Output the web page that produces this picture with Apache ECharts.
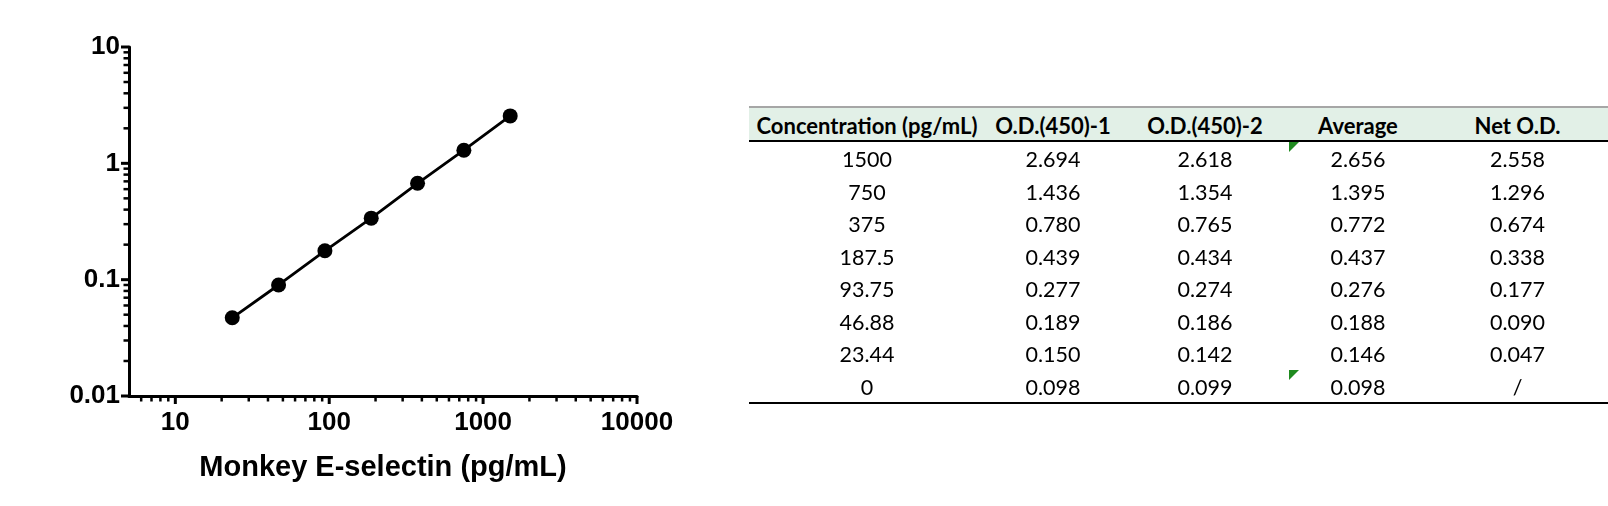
<!DOCTYPE html>
<html>
<head>
<meta charset="utf-8">
<script src="https://cdn.jsdelivr.net/npm/echarts@6/dist/echarts.min.js"></script>
<style>
html,body{margin:0;padding:0;background:#fff;}
#chart{position:absolute;left:0;top:0;width:1608px;height:506px;}
#tbl{position:absolute;left:749px;top:106px;width:859px;border-top:2px solid #a6a6a6;border-bottom:2px solid #000;font-family:Lato,"Noto Sans",sans-serif;color:#000;}
.hdr{display:flex;height:32px;background:#e2f0e7;border-bottom:2px solid #000;font-weight:bold;font-size:22px;align-items:center;}
.row{display:flex;height:32.5px;align-items:center;font-size:21.5px;}
.c{text-align:center;position:relative;box-sizing:border-box;height:100%;display:flex;align-items:center;justify-content:center;}
.hdr .c{padding-top:2px;}
.row .c{padding-top:2px;}
.flag{position:absolute;left:0;top:0;width:0;height:0;border-top:10px solid #1f8a1f;border-right:10px solid transparent;}
</style>
</head>
<body>
<div id="chart"></div>
<div id="tbl"></div>
<script>
// ---- data ----
const concentrations = [1500, 750, 375, 187.5, 93.75, 46.88, 23.44, 0];
const od1 = [2.694, 1.436, 0.780, 0.439, 0.277, 0.189, 0.150, 0.098];
const od2 = [2.618, 1.354, 0.765, 0.434, 0.274, 0.186, 0.142, 0.099];
const average = [2.656, 1.395, 0.772, 0.437, 0.276, 0.188, 0.146, 0.098];
const netOD = [2.558, 1.296, 0.674, 0.338, 0.177, 0.090, 0.047, null];
const headers = ['Concentration (pg/mL)', 'O.D.(450)-1', 'O.D.(450)-2', 'Average', 'Net O.D.'];
const flaggedAverageRows = [0, 7];

const xMajorTicks = [10, 100, 1000, 10000];
const xMinorTicks = [6, 7, 8, 9, 20, 30, 40, 50, 60, 70, 80, 90, 200, 300, 400, 500, 600, 700, 800, 900, 2000, 3000, 4000, 5000, 6000, 7000, 8000, 9000];
const yMajorTicks = [0.01, 0.1, 1, 10];
const yMinorTicks = [0.02, 0.03, 0.04, 0.05, 0.06, 0.07, 0.08, 0.09, 0.2, 0.3, 0.4, 0.5, 0.6, 0.7, 0.8, 0.9, 2, 3, 4, 5, 6, 7, 8, 9];

const xMin = 5, xMax = 10000, yMin = 0.01, yMax = 10;

// ---- chart ----
const curve = [];
concentrations.forEach((c, i) => { if (c > 0 && netOD[i] != null) curve.push([c, netOD[i]]); });

function tickSeries(values, axis, len, width) {
  return {
    type: 'custom',
    clip: false,
    silent: true,
    z: 5,
    data: values.map(v => axis === 'x' ? [v, yMin] : [xMin, v]),
    renderItem: function (params, api) {
      const p = api.coord([api.value(0), api.value(1)]);
      const shape = axis === 'x'
        ? { x1: p[0], y1: p[1], x2: p[0], y2: p[1] + len }
        : { x1: p[0], y1: p[1], x2: p[0] - len, y2: p[1] };
      return { type: 'line', shape: shape, style: { stroke: '#000', lineWidth: width } };
    }
  };
}

const font = '"Liberation Sans", Arial, sans-serif';
const chart = echarts.init(document.getElementById('chart'));
chart.setOption({
  backgroundColor: '#fff',
  animation: false,
  grid: { left: 129, top: 47, width: 508, height: 349 },
  xAxis: {
    type: 'log', logBase: 10, min: xMin, max: xMax,
    axisLine: { lineStyle: { color: '#000', width: 3 } },
    axisTick: { show: false },
    splitLine: { show: false },
    axisLabel: {
      formatter: v => (v >= 9.5 ? String(Math.round(v)) : ''),
      color: '#000', fontSize: 26, fontWeight: 'bold', fontFamily: font, margin: 14
    },
    name: 'Monkey E-selectin (pg/mL)',
    nameLocation: 'middle', nameGap: 57,
    nameTextStyle: { color: '#000', fontSize: 29, fontWeight: 'bold', fontFamily: font }
  },
  yAxis: {
    type: 'log', logBase: 10, min: yMin, max: yMax,
    axisLine: { lineStyle: { color: '#000', width: 3 } },
    axisTick: { show: false },
    splitLine: { show: false },
    axisLabel: {
      formatter: v => String(parseFloat(Number(v).toPrecision(2))),
      color: '#000', fontSize: 26, fontWeight: 'bold', fontFamily: font, margin: 9
    }
  },
  series: [
    {
      type: 'line', data: curve, symbol: 'circle', symbolSize: 15,
      lineStyle: { color: '#000', width: 2.8 }, itemStyle: { color: '#000' }, z: 10
    },
    tickSeries(xMajorTicks, 'x', 8, 3),
    tickSeries(xMinorTicks, 'x', 5.5, 2.5),
    tickSeries(yMajorTicks, 'y', 8, 3),
    tickSeries(yMinorTicks, 'y', 5.5, 2.5)
  ]
});

// ---- table ----
const colWidths = [236, 136, 168, 138, 181];
const fmt = v => (v == null ? '/' : v.toFixed(3));
let html = '<div class="hdr">' + headers.map((h, i) => '<div class="c" style="width:' + colWidths[i] + 'px">' + h + '</div>').join('') + '</div>';
concentrations.forEach((c, r) => {
  const cells = [String(c), fmt(od1[r]), fmt(od2[r]), fmt(average[r]), fmt(netOD[r])];
  html += '<div class="row">' + cells.map((t, i) => {
    const flag = (i === 3 && flaggedAverageRows.indexOf(r) >= 0) ? '<span class="flag"></span>' : '';
    return '<div class="c" style="width:' + colWidths[i] + 'px">' + flag + t + '</div>';
  }).join('') + '</div>';
});
document.getElementById('tbl').innerHTML = html;
</script>
</body>
</html>
